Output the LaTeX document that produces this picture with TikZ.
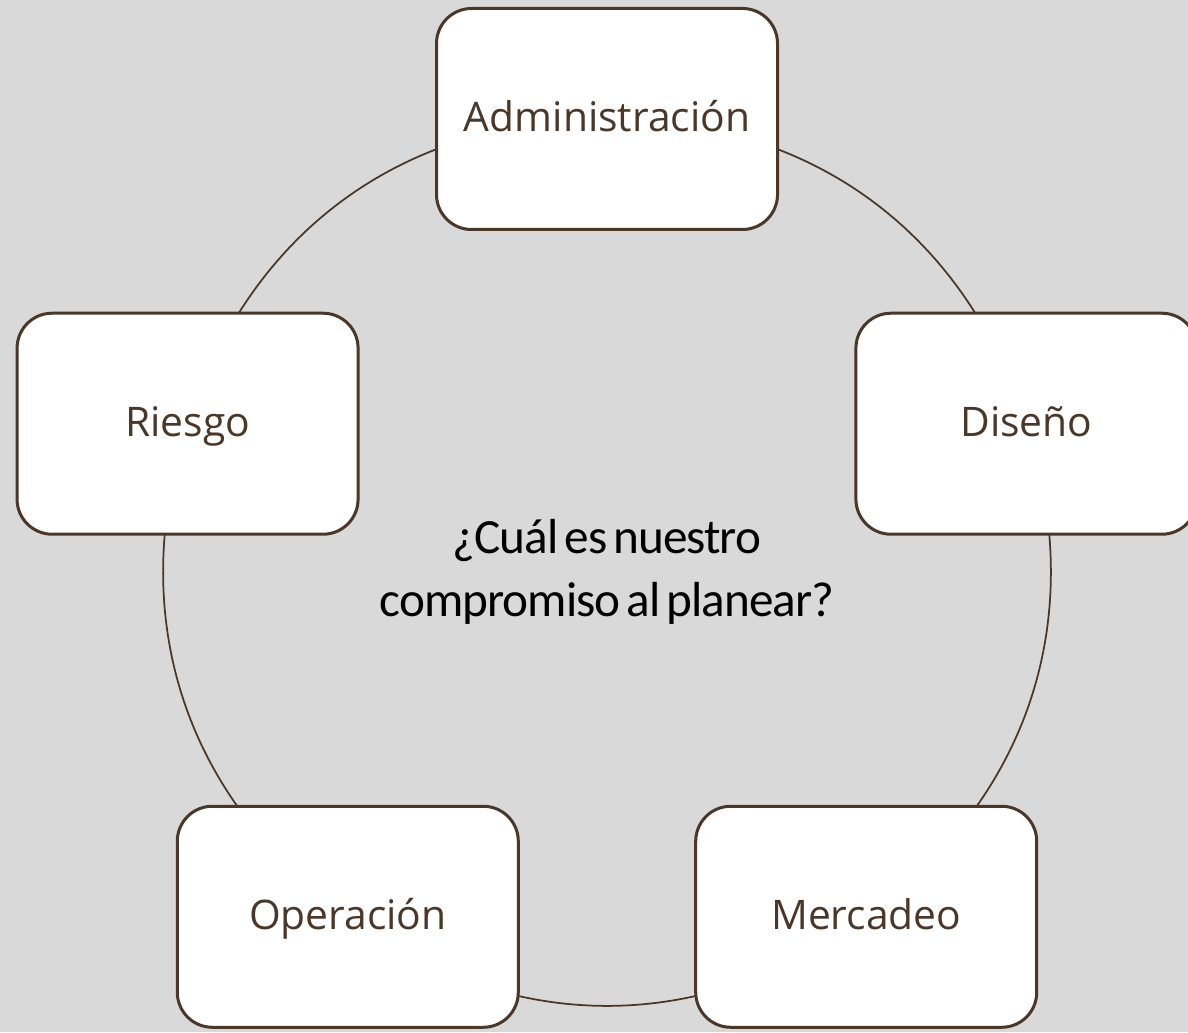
\documentclass[tikz,border=0pt]{standalone}
\usepackage{fontspec}
\setmainfont{Open Sans}
\newfontfamily\calibri[LetterSpace=-2, WordSpace=0.6]{Carlito}
\usetikzlibrary{backgrounds}

\definecolor{bark}{HTML}{4A3728}
\definecolor{paper}{HTML}{D9D9D9}

\tikzset{
  area/.style={draw=bark, line width=0.06cm, fill=white, rounded corners=0.7cm,
    minimum width=6.82cm, minimum height=4.42cm, text=bark,
    text height=0.7cm, text depth=0.18cm,
    font=\fontsize{23.2}{27}\selectfont},
  ring/.style={draw=bark, line width=0.035cm}
}

\begin{document}
\begin{tikzpicture}

        % Background
        \useasboundingbox (0,0) rectangle (23.76,20.64);
        \begin{scope}[on background layer]
            \fill[paper] (0,0) rectangle (23.76,20.64);
        \end{scope}

        % Question in the middle
        \coordinate (mid) at (12.14,9.44);
        \node[align=center, font=\calibri\fontsize{28}{35.7}\selectfont] (question) at (12.14,9.2) {¿Cuál es nuestro\\compromiso al planear?};

        % Areas around the circle
        \node[area] (admin) at ([shift={(90:8.82)}]mid) {Administración};
        \node[area] (diseno) at ([shift={(18:8.82)}]mid) {Diseño};
        \node[area] (mercadeo) at ([shift={(-54:8.82)}]mid) {Mercadeo};
        \node[area] (operacion) at ([shift={(-126:8.82)}]mid) {Operación};
        \node[area] (riesgo) at ([shift={(162:8.82)}]mid) {Riesgo};

        % Circle behind the boxes
        \begin{scope}[on background layer]
            \draw[ring] (admin.center) to[bend left=36] (diseno.center);
            \draw[ring] (diseno.center) to[bend left=36] (mercadeo.center);
            \draw[ring] (mercadeo.center) to[bend left=36] (operacion.center);
            \draw[ring] (operacion.center) to[bend left=36] (riesgo.center);
            \draw[ring] (riesgo.center) to[bend left=36] (admin.center);
        \end{scope}
    \end{tikzpicture}
\end{document}
